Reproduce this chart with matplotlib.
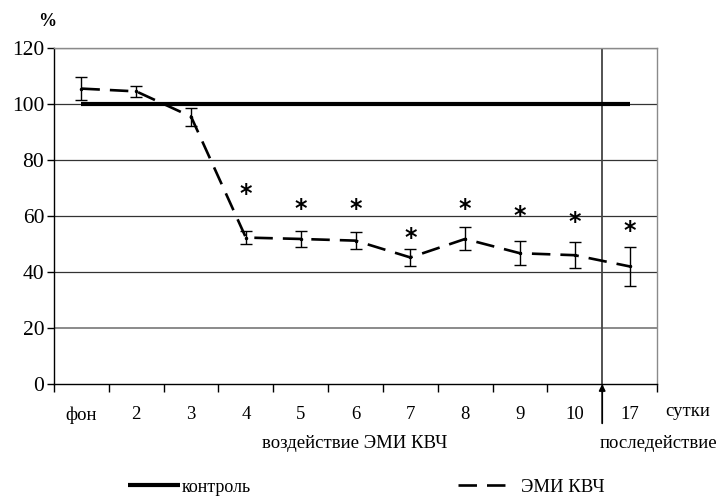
import matplotlib
matplotlib.use("Agg")
import matplotlib.pyplot as plt
from matplotlib.lines import Line2D
import numpy as np

categories = ["фон", "2", "3", "4", "5", "6", "7", "8", "9", "10", "17"]
control = [100, 100, 100, 100, 100, 100, 100, 100, 100, 100, 100]
emi = [105.5, 104.5, 95.5, 52.3, 51.8, 51.2, 45.2, 51.8, 46.7, 46.0, 42.0]
emi_err = [4.0, 2.0, 3.2, 2.2, 2.7, 3.1, 3.1, 4.1, 4.3, 4.6, 7.1]
star_pos = [None, None, None, 68.0, 62.5, 62.5, 52.0, 62.5, 60.0, 57.8, 54.5]
yticks = [0, 20, 40, 60, 80, 100, 120]

plt.rcParams['font.family'] = ['Liberation Serif', 'DejaVu Serif']

W, H = 721, 497
fig = plt.figure(figsize=(W / 100, H / 100), dpi=100)
L, R, T, B = 54, 657, 48, 384
ax = fig.add_axes([L / W, (H - B) / H, (R - L) / W, (B - T) / H])

x = np.arange(len(categories))
ax.set_xlim(-0.5, len(categories) - 0.5)
ax.set_ylim(0, 120)

# grid
for yv in yticks[1:]:
    if yv == 20:
        ax.axhline(yv, color='#8a8a8a', lw=1.4, zorder=1)
    else:
        ax.axhline(yv, color='#333333', lw=0.9, zorder=1)

# separator line between 10 and 17
ax.axvline(9.5, color='#444444', lw=1.3, zorder=1)
ax.annotate('', xy=(9.5, 0), xycoords=('data', 'axes fraction'),
            xytext=(9.5, -0.117), textcoords=('data', 'axes fraction'),
            arrowprops=dict(arrowstyle='-|>', color='black', lw=1.3,
                            mutation_scale=9, shrinkA=0, shrinkB=0),
            annotation_clip=False)

ax.plot(x, control, color='black', lw=3.0, solid_capstyle='butt', zorder=3)
ln, = ax.plot(x, emi, color='black', lw=1.9, zorder=4,
              marker='o', markersize=1.5)
ln.set_dashes((7.0, 3.8))
ax.errorbar(x, emi, yerr=emi_err, fmt='none', ecolor='black',
            elinewidth=1.0, capsize=4.5, capthick=1.0, zorder=5)

for xi, s in zip(x, star_pos):
    if s is not None:
        ax.text(xi, s, '*', ha='center', va='center', fontsize=17,
                family='DejaVu Sans', fontweight='bold')

# spines
ax.spines['left'].set_color('black')
ax.spines['bottom'].set_color('black')
ax.spines['left'].set_linewidth(1.0)
ax.spines['bottom'].set_linewidth(1.0)
for s in ('top', 'right'):
    ax.spines[s].set_color('#8a8a8a')
    ax.spines[s].set_linewidth(1.0)

ax.set_yticks(yticks)
ax.set_yticklabels([str(v) for v in yticks], fontsize=15.5)
ax.tick_params(axis='y', direction='out', length=5, width=1.0, pad=2)

ax.set_xticks(np.arange(-0.5, len(categories), 1.0))
ax.set_xticklabels([])
ax.tick_params(axis='x', which='major', direction='out', length=6, width=1.0)
ax.set_xticks(x, minor=True)
ax.set_xticklabels(categories, minor=True, fontsize=13.5)
ax.tick_params(axis='x', which='minor', length=0, pad=16)

fig.text(47 / W, 1 - 22 / H, '%', ha='center', va='center', fontsize=13,
         fontweight='bold')
fig.text(665 / W, 1 - 412 / H, 'сутки', ha='left', va='center', fontsize=13.5)
fig.text(355 / W, 1 - 443 / H, 'воздействие ЭМИ КВЧ', ha='center',
         va='center', fontsize=13.5)
fig.text(658 / W, 1 - 443 / H, 'последействие', ha='center', va='center',
         fontsize=13.5)

h1 = Line2D([], [], color='black', lw=3.0, solid_capstyle='butt')
h2 = Line2D([], [], color='black', lw=1.9, dashes=(7.0, 3.8))
leg1 = fig.legend([h1], ['контроль'], loc='center left',
                  bbox_to_anchor=(128 / W, 1 - 487 / H), frameon=False,
                  fontsize=13, handlelength=2.9, handletextpad=0.1,
                  borderaxespad=0, borderpad=0)
leg2 = fig.legend([h2], ['ЭМИ КВЧ'], loc='center left',
                  bbox_to_anchor=(458 / W, 1 - 487 / H), frameon=False,
                  fontsize=13.5, handlelength=2.5, handletextpad=0.85,
                  borderaxespad=0, borderpad=0)

fig.savefig('out.png', dpi=100)
